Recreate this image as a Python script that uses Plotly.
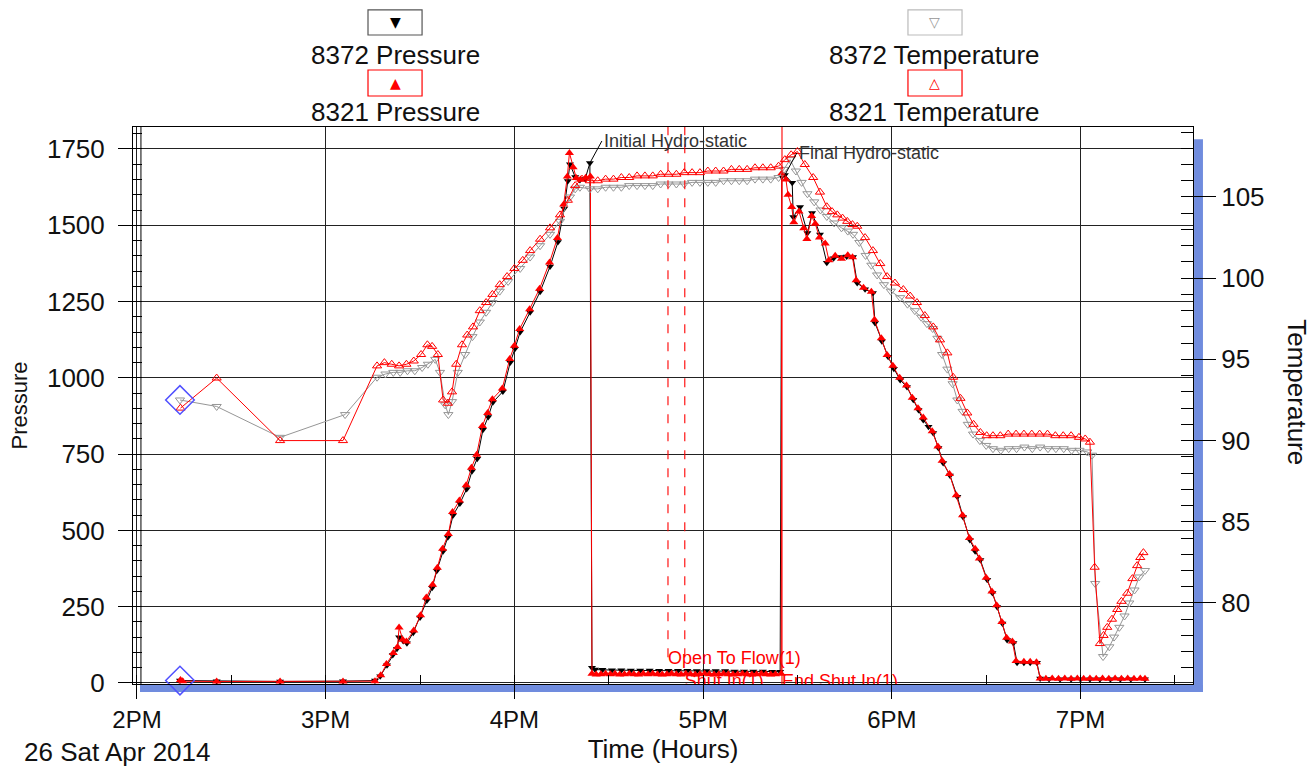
import plotly.graph_objects as go

DAY = "2014-04-26 "

# ---------------- data ----------------
p8372_t = ["14:13:40", "14:25:20", "14:45:30", "15:05:30", "15:15:40", "15:17:20", "15:19:30", "15:21:20",
           "15:22:40", "15:23:20", "15:24:40", "15:25:50", "15:27:50", "15:30:00", "15:32:10", "15:33:50",
           "15:35:20", "15:37:20", "15:38:50", "15:40:30", "15:42:40", "15:44:50", "15:46:30", "15:48:10",
           "15:50:00", "15:51:40", "15:53:10", "15:56:20", "15:58:40", "16:00:10", "16:01:50", "16:05:00",
           "16:08:10", "16:11:20", "16:13:50", "16:15:50", "16:17:00", "16:17:40", "16:19:20", "16:20:50",
           "16:22:30", "16:24:00", "16:24:40", "16:25:40", "16:28:00", "16:31:00", "16:34:00", "16:37:00",
           "16:40:00", "16:43:00", "16:46:00", "16:49:00", "16:52:00", "16:55:00", "16:58:00", "17:01:00",
           "17:04:00", "17:07:00", "17:10:00", "17:13:00", "17:16:00", "17:19:00", "17:22:00", "17:24:30",
           "17:25:00", "17:26:00", "17:28:20", "17:28:40", "17:30:50", "17:33:10", "17:34:40", "17:37:10",
           "17:39:20", "17:41:30", "17:43:40", "17:45:40", "17:47:40", "17:49:00", "17:51:30", "17:54:00",
           "17:54:40", "17:56:50", "17:58:50", "18:00:40", "18:02:40", "18:04:50", "18:06:50", "18:08:30",
           "18:10:00", "18:11:40", "18:13:10", "18:14:50", "18:16:20", "18:18:30", "18:20:50", "18:22:40",
           "18:24:50", "18:26:30", "18:28:10", "18:30:20", "18:32:00", "18:33:30", "18:35:10", "18:36:40",
           "18:38:40", "18:39:50", "18:42:00", "18:44:00", "18:46:10", "18:47:10", "18:50:00", "18:53:30",
           "18:57:00", "19:00:00", "19:03:00", "19:06:10", "19:09:30", "19:12:40", "19:16:00", "19:20:30"]
p8372_v = [8, 6, 5, 6, 8, 22, 58, 92,
           112, 150, 138, 130, 165, 215, 270, 312,
           368, 432, 478, 550, 588, 636, 694, 735,
           830, 872, 920, 955, 1050, 1095, 1150, 1215,
           1282, 1365, 1445, 1555, 1645, 1700, 1658, 1648,
           1652, 1704, 50, 44, 43, 42, 42, 41,
           41, 41, 40, 40, 40, 40, 39, 39,
           39, 39, 38, 38, 38, 38, 37, 37,
           1660, 1665, 1639, 1527, 1560, 1475, 1540, 1470,
           1377, 1392, 1396, 1398, 1396, 1311, 1290, 1278,
           1180, 1120, 1069, 1030, 993, 970, 928, 895,
           862, 840, 819, 770, 721, 680, 610, 544,
           469, 432, 403, 338, 295, 249, 195, 141,
           131, 66, 66, 66, 66, 15, 13, 12,
           12, 12, 12, 12, 12, 12, 12, 12]

p8321_t = ["14:13:50", "14:14:30", "14:25:20", "14:45:30", "15:05:30", "15:15:40", "15:17:30", "15:19:20",
           "15:21:30", "15:22:50", "15:23:20", "15:24:30", "15:25:40", "15:28:00", "15:30:10", "15:32:00",
           "15:34:00", "15:35:30", "15:37:10", "15:39:00", "15:40:20", "15:42:30", "15:44:40", "15:46:20",
           "15:48:00", "15:49:50", "15:51:30", "15:53:00", "15:56:10", "15:58:30", "16:00:00", "16:01:40",
           "16:04:50", "16:08:00", "16:11:10", "16:13:40", "16:15:40", "16:16:50", "16:17:30", "16:18:40",
           "16:19:40", "16:21:00", "16:22:40", "16:24:10", "16:24:40", "16:26:00", "16:27:30", "16:29:00",
           "16:30:30", "16:32:00", "16:33:30", "16:35:00", "16:36:30", "16:38:00", "16:39:30", "16:41:00",
           "16:42:30", "16:44:00", "16:45:30", "16:47:00", "16:48:30", "16:50:00", "16:51:30", "16:53:00",
           "16:54:30", "16:56:00", "16:57:30", "16:59:00", "17:00:30", "17:02:00", "17:03:30", "17:05:00",
           "17:06:30", "17:08:00", "17:09:30", "17:11:00", "17:12:30", "17:14:00", "17:15:30", "17:17:00",
           "17:18:30", "17:20:00", "17:21:30", "17:23:00", "17:24:50", "17:25:00", "17:26:20", "17:27:00",
           "17:28:10", "17:28:50", "17:30:30", "17:32:00", "17:33:00", "17:34:30", "17:35:40", "17:37:00",
           "17:38:50", "17:40:00", "17:42:00", "17:44:00", "17:46:00", "17:47:30", "17:48:40", "17:51:00",
           "17:53:30", "17:54:30", "17:56:40", "17:58:30", "18:00:20", "18:02:30", "18:04:40", "18:06:30",
           "18:08:20", "18:10:00", "18:12:50", "18:14:40", "18:16:00", "18:18:20", "18:20:30", "18:22:30",
           "18:24:40", "18:26:30", "18:27:50", "18:30:00", "18:31:50", "18:33:20", "18:35:00", "18:36:30",
           "18:38:20", "18:39:30", "18:42:00", "18:44:00", "18:46:00", "18:47:10", "18:49:00", "18:51:00",
           "18:53:00", "18:55:00", "18:57:00", "18:59:00", "19:01:00", "19:03:00", "19:05:00", "19:07:00",
           "19:09:00", "19:11:00", "19:13:00", "19:15:00", "19:17:00", "19:19:00", "19:20:30"]
p8321_v = [10, 6, 5, 5, 5, 6, 25, 62,
           98, 118, 182, 142, 136, 172, 222, 280,
           322, 378, 440, 488, 560, 598, 648, 705,
           748, 842, 885, 930, 965, 1062, 1105, 1160,
           1225, 1292, 1378, 1458, 1568, 1660, 1737, 1690,
           1655, 1650, 1656, 1660, 30, 28, 29, 30,
           29, 30, 28, 29, 30, 29, 28, 30,
           29, 30, 29, 28, 29, 30, 29, 28,
           30, 29, 28, 29, 30, 29, 28, 29,
           30, 29, 28, 29, 30, 29, 28, 29,
           30, 29, 28, 29, 30, 1670, 1650, 1600,
           1560, 1510, 1545, 1490, 1455, 1530, 1505, 1460,
           1440, 1385, 1400, 1390, 1402, 1395, 1320, 1295,
           1282, 1190, 1130, 1075, 1040, 1000, 975, 935,
           900, 870, 825, 775, 728, 685, 615, 550,
           475, 440, 408, 345, 300, 255, 200, 148,
           136, 72, 70, 70, 68, 15, 14, 15,
           14, 15, 14, 15, 14, 15, 14, 15,
           14, 15, 14, 15, 14, 15, 14]

t8372_t = ["14:13:40", "14:25:20", "14:45:30", "15:06:10", "15:16:20", "15:19:00", "15:21:30", "15:23:40",
           "15:26:00", "15:28:20", "15:30:40", "15:32:30", "15:34:50", "15:36:20", "15:38:00", "15:39:00",
           "15:40:10", "15:42:00", "15:44:20", "15:46:40", "15:49:00", "15:51:00", "15:53:00", "15:55:20",
           "15:58:00", "16:01:50", "16:05:00", "16:08:10", "16:11:20", "16:14:30", "16:17:40", "16:19:20",
           "16:20:50", "16:24:00", "16:26:30", "16:29:00", "16:31:30", "16:34:00", "16:36:30", "16:39:00",
           "16:41:30", "16:44:00", "16:46:30", "16:49:00", "16:51:30", "16:54:00", "16:56:30", "16:59:00",
           "17:01:30", "17:04:00", "17:06:30", "17:09:00", "17:11:30", "17:14:00", "17:16:30", "17:19:00",
           "17:21:30", "17:24:00", "17:25:40", "17:27:40", "17:29:30", "17:31:20", "17:33:10", "17:35:20",
           "17:37:20", "17:39:20", "17:41:40", "17:44:00", "17:46:00", "17:47:40", "17:49:40", "17:51:40",
           "17:53:30", "17:55:20", "17:57:30", "17:59:40", "18:02:40", "18:05:00", "18:07:20", "18:09:20",
           "18:11:10", "18:13:00", "18:14:30", "18:16:00", "18:17:40", "18:19:20", "18:20:50", "18:22:30",
           "18:24:10", "18:25:50", "18:28:00", "18:30:00", "18:32:10", "18:34:40", "18:37:10", "18:39:40",
           "18:42:10", "18:44:40", "18:47:10", "18:49:40", "18:52:10", "18:54:40", "18:57:10", "18:59:40",
           "19:02:10", "19:03:40", "19:04:40", "19:07:10", "19:09:10", "19:10:40", "19:12:20", "19:14:00",
           "19:15:30", "19:17:10", "19:18:40", "19:20:30"]
t8372_v = [92.5, 92.1, 90.2, 91.6, 93.9, 94.1, 94.2, 94.2,
           94.3, 94.3, 94.5, 94.7, 95.0, 94.2, 92.2, 91.6,
           92.4, 94.2, 95.3, 96.4, 97.3, 97.9, 98.5, 99.2,
           99.8, 100.6, 101.3, 102.0, 102.7, 103.5, 105.0, 105.5,
           105.6, 105.5, 105.5, 105.6, 105.6, 105.6, 105.7, 105.7,
           105.7, 105.7, 105.8, 105.8, 105.8, 105.8, 105.9, 105.9,
           105.9, 105.9, 106.0, 106.0, 106.0, 106.0, 106.1, 106.1,
           106.1, 106.2, 106.7, 107.3, 106.6, 105.9, 105.2, 104.7,
           104.2, 103.8, 103.4, 103.1, 102.9, 102.7, 102.2, 101.4,
           100.8, 100.2, 99.6, 99.2, 98.8, 98.4, 98.0, 97.6,
           97.2, 96.9, 96.3, 95.3, 94.4, 93.5, 92.5, 91.8,
           91.0, 90.4, 90.0, 89.7, 89.5, 89.4, 89.5, 89.5,
           89.6, 89.5, 89.6, 89.5, 89.5, 89.5, 89.4, 89.4,
           89.3, 89.1, 81.2, 76.7, 77.3, 77.9, 78.5, 79.2,
           80.0, 80.8, 81.6, 82.0]

t8321_t = ["14:13:50", "14:25:20", "14:45:30", "15:05:30", "15:16:20", "15:18:40", "15:21:00", "15:23:20",
           "15:25:40", "15:28:00", "15:30:20", "15:32:20", "15:33:50", "15:35:40", "15:37:20", "15:38:50",
           "15:40:10", "15:41:30", "15:43:20", "15:45:00", "15:46:50", "15:49:00", "15:51:00", "15:53:00",
           "15:55:20", "15:57:40", "16:00:00", "16:02:40", "16:05:00", "16:08:10", "16:11:20", "16:14:30",
           "16:17:00", "16:19:20", "16:21:30", "16:24:00", "16:26:30", "16:29:00", "16:31:30", "16:34:00",
           "16:36:30", "16:39:00", "16:41:30", "16:44:00", "16:46:30", "16:49:00", "16:51:30", "16:54:00",
           "16:56:30", "16:59:00", "17:01:30", "17:04:00", "17:06:30", "17:09:00", "17:11:30", "17:14:00",
           "17:16:30", "17:19:00", "17:21:30", "17:24:00", "17:26:00", "17:28:00", "17:30:00", "17:32:20",
           "17:35:00", "17:37:10", "17:39:20", "17:41:00", "17:42:40", "17:44:20", "17:45:50", "17:47:30",
           "17:49:00", "17:51:30", "17:54:00", "17:56:20", "17:58:30", "18:01:00", "18:03:40", "18:05:50",
           "18:08:00", "18:10:30", "18:13:10", "18:15:20", "18:17:40", "18:19:30", "18:21:50", "18:24:00",
           "18:26:00", "18:28:10", "18:30:10", "18:32:10", "18:34:30", "18:37:00", "18:39:30", "18:42:00",
           "18:44:30", "18:47:00", "18:49:30", "18:52:00", "18:54:30", "18:57:00", "18:59:30", "19:01:30",
           "19:03:00", "19:04:30", "19:06:10", "19:07:20", "19:08:30", "19:10:00", "19:11:40", "19:13:00",
           "19:14:50", "19:16:30", "19:18:00", "19:19:00", "19:20:00"]
t8321_v = [92.0, 93.85, 90.0, 90.0, 94.6, 94.8, 94.7, 94.6,
           94.7, 94.9, 95.3, 95.9, 95.8, 95.3, 92.5, 92.3,
           93.0, 94.7, 95.9, 96.5, 97.0, 98.0, 98.5, 99.0,
           99.6, 100.1, 100.6, 101.1, 101.7, 102.4, 103.1, 103.9,
           104.8, 105.7, 106.1, 106.0, 106.0, 106.1, 106.1, 106.2,
           106.2, 106.3, 106.3, 106.3, 106.4, 106.4, 106.4, 106.5,
           106.5, 106.5, 106.6, 106.6, 106.6, 106.7, 106.7, 106.7,
           106.8, 106.8, 106.8, 106.9, 107.3, 107.6, 107.8, 107.0,
           106.2, 105.3, 104.4, 104.1, 103.9, 103.7, 103.5, 103.3,
           103.2, 102.5, 101.7, 100.9, 100.1, 99.7, 99.3, 98.9,
           98.5, 97.7, 97.0, 96.2, 95.4, 93.9, 92.6, 91.7,
           91.0, 90.5, 90.3, 90.3, 90.3, 90.4, 90.4, 90.4,
           90.4, 90.4, 90.4, 90.3, 90.3, 90.3, 90.2, 90.1,
           89.9, 82.2, 77.5, 78.0, 78.5, 79.0, 79.6, 80.1,
           80.6, 81.5, 82.3, 82.8, 83.1]

hour_ticks = ["14:00:00", "15:00:00", "16:00:00", "17:00:00", "18:00:00", "19:00:00"]
hour_labels = ["2PM", "3PM", "4PM", "5PM", "6PM", "7PM"]

start_marker_t = ["14:13:40"]
start_marker_p = [8]
start_marker_temp = [92.5]

events_t = ["16:48:50", "16:54:10", "17:25:05"]
events_label = ["Open To Flow(1)", "Shut In(1)", "End Shut In(1)"]
events_dash = ["dash", "dash", "solid"]
events_label_p = [78, 3, 3]

hydro_t = ["16:24:00", "17:26:00"]
hydro_p = [1704, 1665]
hydro_label = ["Initial Hydro-static", "Final Hydro-static"]


def dt(lst):
    return [DAY + s for s in lst]


FONT = "Liberation Sans, Arial, sans-serif"
RED = "rgb(255,0,0)"
GRAY = "rgb(150,150,150)"
BLUE_BAR = "rgb(112,140,222)"

fig = go.Figure()

fig.add_trace(go.Scatter(x=dt(t8372_t), y=t8372_v, yaxis="y2", mode="lines+markers",
                         line=dict(color=GRAY, width=1),
                         marker=dict(symbol="triangle-down-open", size=8, color=GRAY, line=dict(width=1)),
                         name="8372 Temperature"))
fig.add_trace(go.Scatter(x=dt(t8321_t), y=t8321_v, yaxis="y2", mode="lines+markers",
                         line=dict(color=RED, width=1),
                         marker=dict(symbol="triangle-up-open", size=8, color=RED, line=dict(width=1)),
                         name="8321 Temperature"))
fig.add_trace(go.Scatter(x=dt(p8372_t), y=p8372_v, mode="lines+markers",
                         line=dict(color="black", width=1),
                         marker=dict(symbol="triangle-down", size=7, color="black"),
                         name="8372 Pressure"))
fig.add_trace(go.Scatter(x=dt(p8321_t), y=p8321_v, mode="lines+markers",
                         line=dict(color=RED, width=1),
                         marker=dict(symbol="triangle-up", size=8, color=RED),
                         name="8321 Pressure"))

# blue start diamonds
fig.add_trace(go.Scatter(x=dt(start_marker_t), y=start_marker_temp, yaxis="y2", mode="markers",
                         marker=dict(symbol="diamond-open", size=22, color="rgb(80,80,255)", line=dict(width=1.5)),
                         cliponaxis=False))
fig.add_trace(go.Scatter(x=dt(start_marker_t), y=start_marker_p, mode="markers",
                         marker=dict(symbol="diamond-open", size=22, color="rgb(80,80,255)", line=dict(width=1.5)),
                         cliponaxis=False))

# event labels (clipped by the plot area like the original)
fig.add_trace(go.Scatter(x=dt(events_t), y=events_label_p, mode="text", text=events_label,
                         textposition="middle right", cliponaxis=True,
                         textfont=dict(family=FONT, size=18, color=RED)))

shapes = []
for t, d in zip(events_t, events_dash):
    shapes.append(dict(type="line", xref="x", yref="paper", x0=DAY + t, x1=DAY + t,
                       y0=0.048 if d == "dash" else 0, y1=1,
                       line=dict(color="rgba(255,0,0,0.85)", width=1.3, dash=d)))

# blue shadow bars
shapes.append(dict(type="rect", xref="paper", yref="paper", x0=1.001, x1=1.0094, y0=-0.0144, y1=0.978,
                   fillcolor=BLUE_BAR, line=dict(width=0), layer="below"))
shapes.append(dict(type="rect", xref="paper", yref="paper", x0=0.0066, x1=1.0094, y0=-0.0144, y1=-0.0018,
                   fillcolor=BLUE_BAR, line=dict(width=0), layer="below"))
# inner ruler line on left axis
shapes.append(dict(type="line", xref="paper", yref="paper", x0=0.0075, x1=0.0075, y0=0, y1=1,
                   line=dict(color="black", width=1)))

annotations = []
for t, p, lab in zip(hydro_t, hydro_p, hydro_label):
    annotations.append(dict(x=DAY + t, y=p, xref="x", yref="y", text=lab, showarrow=True,
                            arrowhead=0, arrowwidth=1, arrowcolor="black", ax=12, ay=-22,
                            xanchor="left", yanchor="middle",
                            font=dict(family=FONT, size=18, color="#333333")))

# custom legend
legend_items = [
    (0.2472, 1.1652, 1.2101, 1.1293, "▼", "black", "#555555", "8372 Pressure"),
    (0.2472, 1.0557, 1.1023, 1.0269, "▲", RED, RED, "8321 Pressure"),
    (0.7566, 1.1652, 1.2101, 1.1293, "▽", GRAY, "#bbbbbb", "8372 Temperature"),
    (0.7566, 1.0557, 1.1023, 1.0269, "△", RED, RED, "8321 Temperature"),
]
for cx, y0, y1, ty, sym, mcol, bcol, lab in legend_items:
    shapes.append(dict(type="rect", xref="paper", yref="paper", x0=cx - 0.0255, x1=cx + 0.0255,
                       y0=y0, y1=y1, line=dict(color=bcol, width=1.2), fillcolor="white"))
    annotations.append(dict(x=cx, y=(y0 + y1) / 2, xref="paper", yref="paper", text=sym, showarrow=False,
                            xanchor="center", yanchor="middle",
                            font=dict(family="DejaVu Sans", size=14, color=mcol)))
    annotations.append(dict(x=cx, y=ty, xref="paper", yref="paper", text=lab, showarrow=False,
                            xanchor="center", yanchor="middle",
                            font=dict(family=FONT, size=26, color="#111111")))

annotations.append(dict(x=-0.0151, y=-0.1221, xref="paper", yref="paper", text="26 Sat Apr 2014",
                        showarrow=False, xanchor="center", yanchor="middle",
                        font=dict(family=FONT, size=26, color="#111111")))
annotations.append(dict(x=1.098, y=0.524, xref="paper", yref="paper", text="Temperature",
                        showarrow=False, textangle=90, xanchor="center", yanchor="middle",
                        font=dict(family=FONT, size=26, color="#111111")))

fig.update_layout(
    width=1314, height=773,
    margin=dict(l=133, r=121, t=127, b=89),
    plot_bgcolor="white", paper_bgcolor="white",
    showlegend=False,
    font=dict(family=FONT, size=22, color="#111111"),
    shapes=shapes, annotations=annotations,
    xaxis=dict(type="date", range=[DAY + "13:58:44", DAY + "19:35:46"],
               tickvals=dt(hour_ticks), ticktext=hour_labels,
               ticks="outside", ticklen=14, tickcolor="black", tickwidth=1,
               showline=True, linecolor="black", linewidth=1, mirror=True,
               showgrid=True, gridcolor="#222222", gridwidth=1, zeroline=False,
               minor=dict(ticks="inside", ticklen=9, tickcolor="black", dtick=1800000,
                          tick0=DAY + "14:00:00", showgrid=False),
               title=dict(text="Time (Hours)", standoff=8, font=dict(size=26)),
               tickfont=dict(size=24)),
    yaxis=dict(range=[-3.3, 1822], tick0=0, dtick=250,
               ticks="outside", ticklen=14, tickcolor="black",
               showline=True, linecolor="black", linewidth=1,
               showgrid=True, gridcolor="#222222", gridwidth=1, zeroline=False,
               minor=dict(ticks="inside", ticklen=9, tickcolor="black", dtick=50, showgrid=False),
               ticklabelstandoff=8,
               title=dict(text="Pressure", standoff=13, font=dict(size=22)),
               tickfont=dict(size=26)),
    yaxis2=dict(range=[75.01, 109.31], overlaying="y", side="right", tick0=80, dtick=5,
                ticks="outside", ticklen=22, tickcolor="black",
                showline=True, linecolor="black", linewidth=1,
                showgrid=False, zeroline=False,
                minor=dict(ticks="inside", ticklen=12, tickcolor="black", dtick=1, showgrid=False),
                tickfont=dict(size=26)),
)

fig.write_html("out.html", config={"displayModeBar": False},
               post_script="document.body.style.margin='0px';document.body.style.padding='0px';")
